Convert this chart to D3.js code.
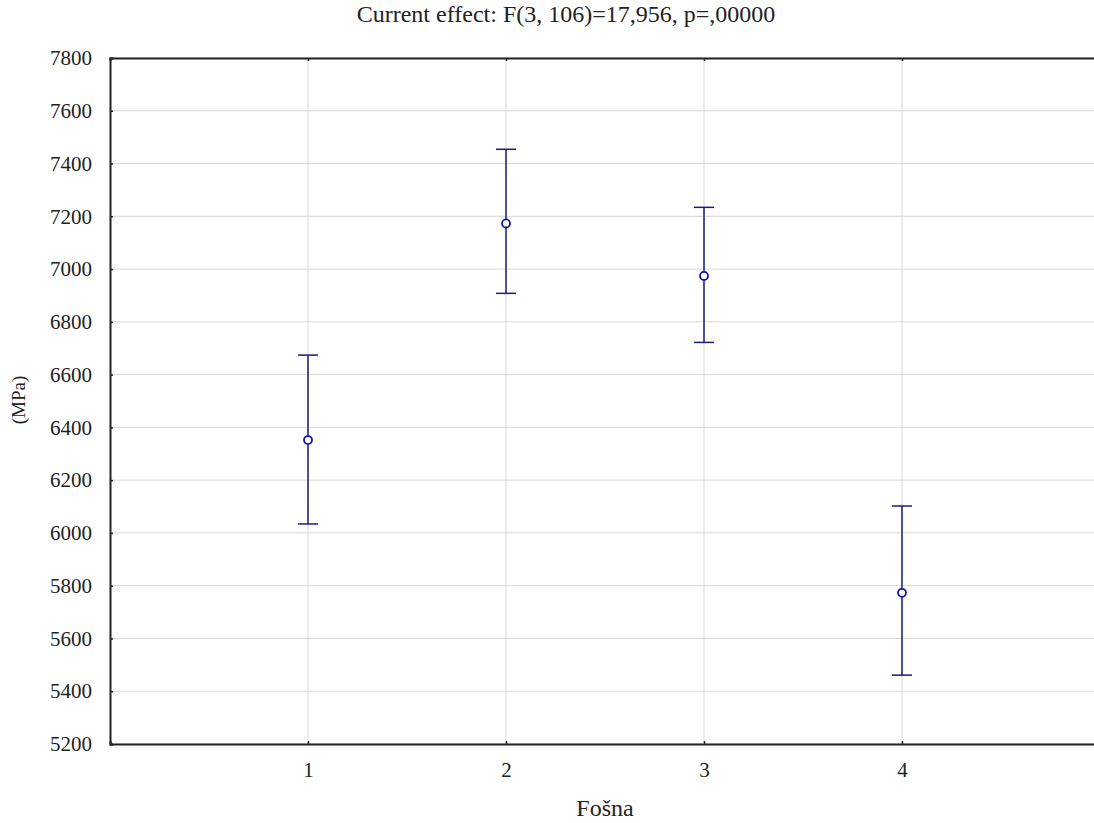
<!DOCTYPE html>
<html>
<head>
<meta charset="utf-8">
<script src="https://cdn.jsdelivr.net/npm/d3@7"></script>
<style>
  body { margin: 0; background: #fff; }
  text { font-family: "Liberation Serif", "Times New Roman", serif; fill: #222; }
</style>
</head>
<body>
<svg id="chart" width="1094" height="823"></svg>
<script>
// data
var categories = ["1", "2", "3", "4"];
var means = [6352, 7173, 6974, 5773];
var upper = [6674, 7454, 7234, 6102];
var lower = [6034, 6908, 6722, 5461];
var yTicks = [5200, 5400, 5600, 5800, 6000, 6200, 6400, 6600, 6800, 7000, 7200, 7400, 7600, 7800];

var svg = d3.select("#chart"),
    margin = {top: 58, left: 110},
    plotRight = 1100,
    plotBottom = 744,
    fontSize = "21px";

// x domain runs 0..5 so categories sit at 1..4
var x = d3.scaleLinear().domain([0, 5]).range([margin.left, plotRight]);
var y = d3.scaleLinear().domain([5200, 7800]).range([plotBottom, margin.top]);

var barColor = "#1c1c78",
    dotColor = "#1515a8";

// grid lines
svg.append("g")
    .selectAll("line.hgrid")
    .data(yTicks)
  .enter().append("line")
    .attr("x1", margin.left).attr("x2", plotRight)
    .attr("y1", function(d) { return y(d); })
    .attr("y2", function(d) { return y(d); })
    .attr("stroke", "#d8d8d8").attr("stroke-width", 1);

svg.append("g")
    .selectAll("line.vgrid")
    .data(categories)
  .enter().append("line")
    .attr("x1", function(d) { return x(+d); })
    .attr("x2", function(d) { return x(+d); })
    .attr("y1", margin.top).attr("y2", plotBottom)
    .attr("stroke", "#d8d8d8").attr("stroke-width", 1);

// axes (inward ticks)
var yAxis = d3.axisLeft(y).tickValues(yTicks).tickSize(-3).tickPadding(18)
    .tickFormat(d3.format("d"));
var gy = svg.append("g")
    .attr("transform", "translate(" + margin.left + ",0)")
    .call(yAxis);
gy.attr("font-size", fontSize);

var xAxis = d3.axisBottom(x).tickValues([1, 2, 3, 4]).tickSize(-3).tickPadding(18)
    .tickFormat(function(d, i) { return categories[i]; });
var gx = svg.append("g")
    .attr("transform", "translate(0," + plotBottom + ")")
    .call(xAxis);
gx.attr("font-size", fontSize);

var xTop = d3.axisTop(x).tickValues([1, 2, 3, 4]).tickSize(-3).tickFormat("");
svg.append("g")
    .attr("transform", "translate(0," + margin.top + ")")
    .call(xTop);

svg.selectAll(".domain").attr("stroke", "#222").attr("stroke-width", 2);
svg.selectAll(".tick line").attr("stroke", "#222").attr("stroke-width", 1.5);
svg.selectAll(".tick text").attr("fill", "#222");

// error bars
var bars = svg.append("g")
    .selectAll("g.bar")
    .data(categories)
  .enter().append("g");

bars.append("line")
    .attr("x1", function(d) { return x(+d); })
    .attr("x2", function(d) { return x(+d); })
    .attr("y1", function(d, i) { return y(upper[i]); })
    .attr("y2", function(d, i) { return y(lower[i]); })
    .attr("stroke", barColor).attr("stroke-width", 1.5);

bars.append("line")
    .attr("x1", function(d) { return x(+d) - 10; })
    .attr("x2", function(d) { return x(+d) + 10; })
    .attr("y1", function(d, i) { return y(upper[i]); })
    .attr("y2", function(d, i) { return y(upper[i]); })
    .attr("stroke", barColor).attr("stroke-width", 1.5);

bars.append("line")
    .attr("x1", function(d) { return x(+d) - 10; })
    .attr("x2", function(d) { return x(+d) + 10; })
    .attr("y1", function(d, i) { return y(lower[i]); })
    .attr("y2", function(d, i) { return y(lower[i]); })
    .attr("stroke", barColor).attr("stroke-width", 1.5);

bars.append("circle")
    .attr("cx", function(d) { return x(+d); })
    .attr("cy", function(d, i) { return y(means[i]); })
    .attr("r", 4)
    .attr("fill", "#fff")
    .attr("stroke", dotColor).attr("stroke-width", 1.8);

// titles
svg.append("text")
    .attr("x", 566).attr("y", 22)
    .attr("text-anchor", "middle")
    .attr("font-size", "24px")
    .text("Current effect: F(3, 106)=17,956, p=,00000");

svg.append("text")
    .attr("x", 605).attr("y", 816)
    .attr("text-anchor", "middle")
    .attr("font-size", "24px")
    .text("Fošna");

svg.append("text")
    .attr("transform", "translate(25,400) rotate(-90)")
    .attr("text-anchor", "middle")
    .attr("font-size", "19px")
    .text("(MPa)");
</script>
</body>
</html>
